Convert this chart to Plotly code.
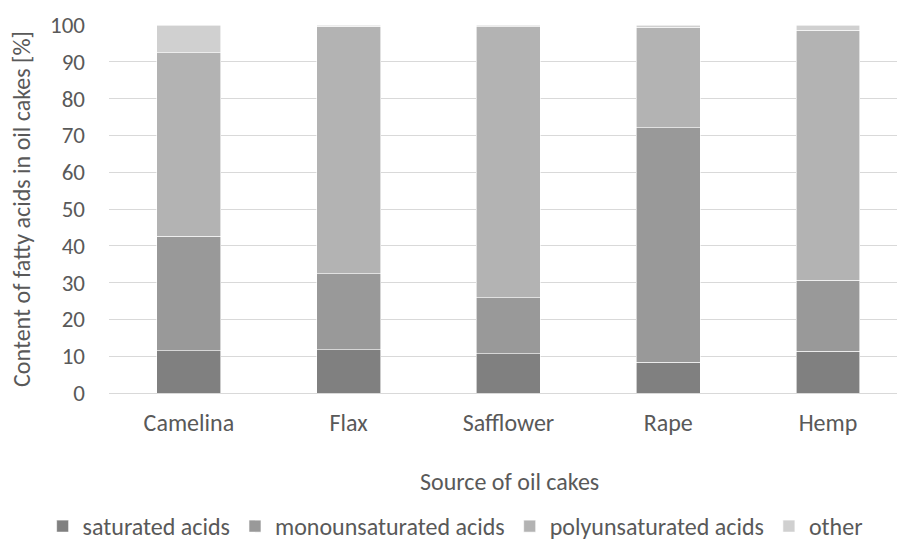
import plotly.graph_objects as go

categories = ["Camelina", "Flax", "Safflower", "Rape", "Hemp"]
saturated = [11.5, 11.7, 10.6, 8.3, 11.3]
monounsaturated = [31.1, 20.7, 15.3, 63.8, 19.3]
polyunsaturated = [49.9, 67.3, 73.6, 27.3, 68.0]
other = [7.5, 0.3, 0.5, 0.6, 1.4]

series_names = ["saturated acids", "monounsaturated acids", "polyunsaturated acids", "other"]
series_values = [saturated, monounsaturated, polyunsaturated, other]
colors = ["#808080", "#999999", "#b3b3b3", "#d0d0d0"]

FONT = "Carlito, Lato, sans-serif"
TXT = "#595959"

PLOT_L, PLOT_T, PLOT_B = 109.35, 25.3, 392.7
PW, PH = 897 - PLOT_L, PLOT_B - PLOT_T

fig = go.Figure()
for name, vals, col in zip(series_names, series_values, colors):
    fig.add_trace(go.Bar(
        x=categories, y=vals, name=name,
        marker=dict(color=col, line=dict(color="#ffffff", width=0.6)),
    ))

fig.update_layout(
    barmode="stack",
    bargap=0.6,
    width=897, height=543,
    margin=dict(l=PLOT_L, r=0, t=PLOT_T, b=543 - PLOT_B, autoexpand=False),
    paper_bgcolor="white", plot_bgcolor="white",
    font=dict(family=FONT, size=24, color=TXT),
    showlegend=True,
    legend=dict(
        orientation="h", xref="paper", yref="paper",
        x=(43 - PLOT_L) / PW, xanchor="left",
        y=-(526 - PLOT_B) / PH, yanchor="middle",
        font=dict(family=FONT, size=24, color=TXT),
        itemwidth=30, traceorder="normal",
    ),
    xaxis=dict(
        type="category", range=[-0.5, 4.432],
        showgrid=False, showline=True, linecolor="#d9d9d9", linewidth=1.2,
        ticks="", tickfont=dict(family=FONT, size=24, color=TXT),
        ticklabelstandoff=8,
    ),
    yaxis=dict(
        range=[0, 100], dtick=10, tick0=0,
        showgrid=True, gridcolor="#d9d9d9", gridwidth=1.2,
        zeroline=False, showline=False, ticks="",
        tickfont=dict(family=FONT, size=23, color=TXT),
        ticklabelstandoff=23,
        title=dict(text="Content of fatty acids in oil cakes [%]",
                   font=dict(family=FONT, size=24, color=TXT), standoff=12),
    ),
    annotations=[dict(
        text="Source of oil cakes", xref="paper", yref="paper",
        x=(510 - PLOT_L) / PW, y=-(481 - PLOT_B) / PH,
        xanchor="center", yanchor="middle", showarrow=False,
        font=dict(family=FONT, size=24, color=TXT),
    )],
)

fig.write_html("out.html")
